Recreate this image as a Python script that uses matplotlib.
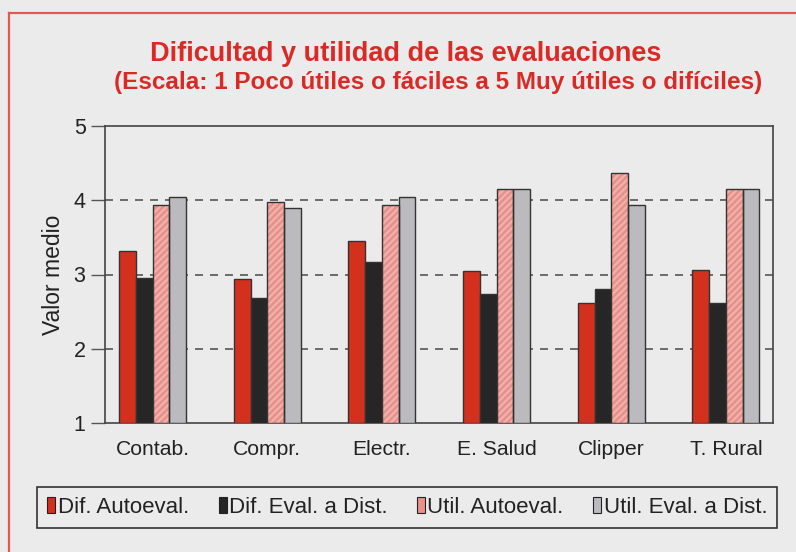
import matplotlib
matplotlib.use("Agg")
import matplotlib.pyplot as plt
from matplotlib.lines import Line2D
from matplotlib.patches import Patch
import numpy as np

categories = ["Contab.", "Compr.", "Electr.", "E. Salud", "Clipper", "T. Rural"]
series_names = ["Dif. Autoeval.", "Dif. Eval. a Dist.", "Util. Autoeval.", "Util. Eval. a Dist."]
dif_autoeval = [3.31, 2.94, 3.45, 3.05, 2.62, 3.06]
dif_eval_dist = [2.95, 2.69, 3.17, 2.74, 2.80, 2.62]
util_autoeval = [3.93, 3.97, 3.93, 4.15, 4.37, 4.15]
util_eval_dist = [4.04, 3.90, 4.04, 4.15, 3.94, 4.15]
yticks = [1, 2, 3, 4, 5]
title_lines = ["Dificultad y utilidad de las evaluaciones",
               "(Escala: 1 Poco útiles o fáciles a 5 Muy útiles o difíciles)"]
ylabel = "Valor medio"

FONT = "Liberation Sans"
BG = "#ebebeb"
RED = "#d4301e"
BLACK = "#262626"
PINK = "#e8918b"
PINK_HATCH = "#f2b3ae"
GRAY = "#bbbbbf"
EDGE = "#333333"
TITLE_RED = "#d92b25"

fig = plt.figure(figsize=(7.96, 5.52), dpi=100, facecolor=BG)
ax = fig.add_axes([105/796, 1-423/552, (773-105)/796, (423-126)/552])
ax.set_facecolor(BG)

x = np.arange(len(categories))
w = 0.146
offs = np.array([-1.5, -0.5, 0.5, 1.5]) * w

ax.bar(x + offs[0], np.array(dif_autoeval) - 1, w, bottom=1, color=RED, edgecolor=EDGE, linewidth=1, zorder=3)
ax.bar(x + offs[1], np.array(dif_eval_dist) - 1, w, bottom=1, color=BLACK, edgecolor=EDGE, linewidth=1, zorder=3)
plt.rcParams['hatch.linewidth'] = 1.5
ax.bar(x + offs[2], np.array(util_autoeval) - 1, w, bottom=1, color=PINK, edgecolor=PINK_HATCH,
       linewidth=0, hatch="/////", zorder=3)
ax.bar(x + offs[2], np.array(util_autoeval) - 1, w, bottom=1, fill=False, edgecolor=EDGE, linewidth=1, zorder=4)
ax.bar(x + offs[3], np.array(util_eval_dist) - 1, w, bottom=1, color=GRAY, edgecolor=EDGE, linewidth=1, zorder=3)

ax.set_ylim(1, 5)
ax.set_xlim(-0.415, 5.41)
ax.set_yticks(yticks)
ax.set_yticklabels([str(t) for t in yticks], fontsize=15.5, family=FONT, color="#222222")
ax.set_xticks(x)
ax.set_xticklabels(categories, fontsize=15.2, family=FONT, color="#222222")
ax.tick_params(axis="x", length=0, pad=12)
ax.tick_params(axis="y", length=10, width=1, color="#555555", direction="out", pad=4)
for t in [2, 3, 4]:
    ax.axhline(t, color="#555555", linewidth=1.2, dashes=(4.8, 4.2), zorder=1)
for s in ax.spines.values():
    s.set_color("#444444")
    s.set_linewidth(1.2)
ax.set_ylabel(ylabel, fontsize=16.5, family=FONT, color="#222222", labelpad=6)

fig.text(406/796, 1-54/552, title_lines[0], ha="center", va="center", fontsize=19.5,
         fontweight="bold", family=FONT, color=TITLE_RED)
fig.text(438/796, 1-82/552, title_lines[1], ha="center", va="center", fontsize=17.5,
         fontweight="bold", family=FONT, color=TITLE_RED)

# red frame
fig.add_artist(Line2D([9/796, 9/796], [0, 1-12.7/552], color="#e05a55", linewidth=1.6, transform=fig.transFigure))
fig.add_artist(Line2D([9/796, 1], [1-12.7/552, 1-12.7/552], color="#e05a55", linewidth=1.6, transform=fig.transFigure))

handles = [Patch(facecolor=c, edgecolor="#222222", linewidth=0.8) for c in [RED, BLACK, PINK, GRAY]]
leg = fig.legend(handles, series_names, loc="center", ncol=4,
                 bbox_to_anchor=(37.3/796, 1-529/552, 740/796, 43.3/552), mode="expand",
                 borderaxespad=0, frameon=True, fancybox=False, edgecolor="#333333",
                 facecolor=BG, framealpha=1, prop={"family": FONT, "size": 16},
                 handlelength=0.36, handleheight=0.75, handletextpad=0.1, columnspacing=0.8,
                 borderpad=0.45)
leg.get_frame().set_linewidth(1.2)
for t in leg.get_texts():
    t.set_color("#222222")

fig.savefig("out.png", dpi=100, facecolor=BG)
